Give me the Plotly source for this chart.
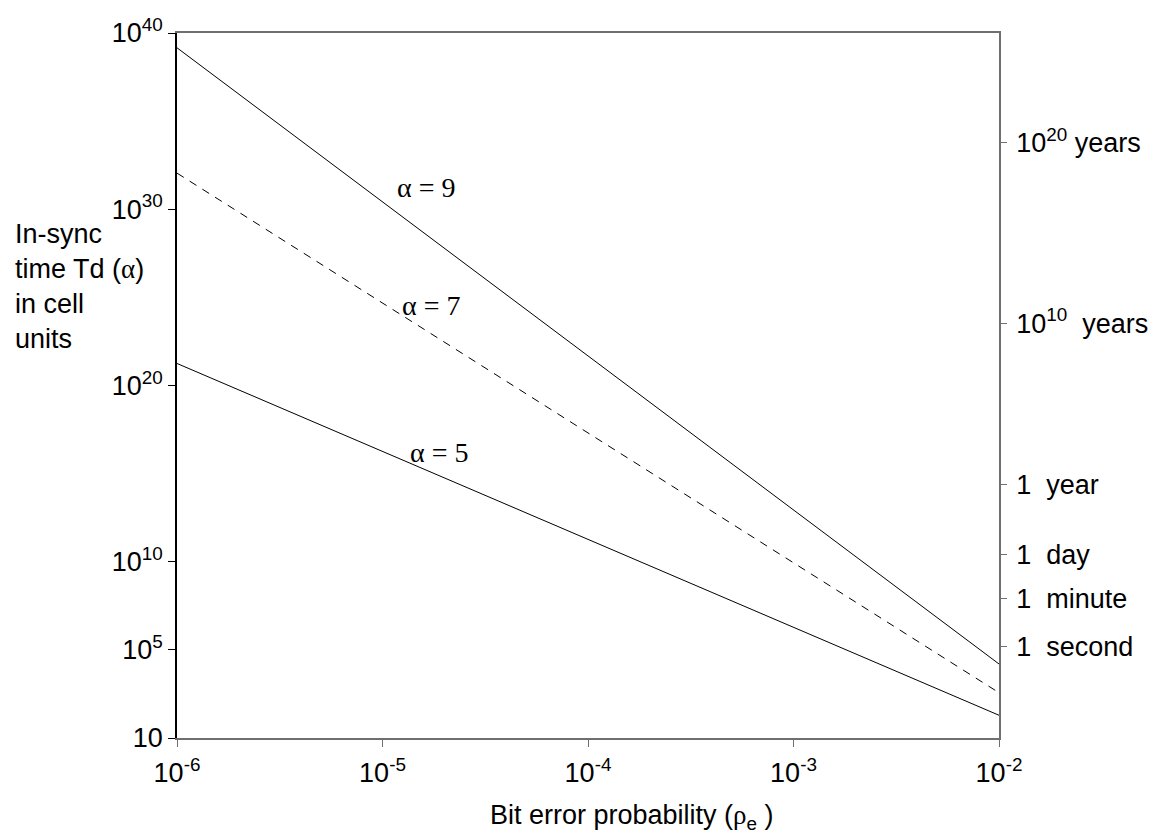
import plotly.graph_objects as go

# ---- data ----
x_ends = [1e-6, 1e-2]                      # bit error probability range
alpha_labels = ["α = 9", "α = 7", "α = 5"]
log_td_alpha9 = [39.16, 4.20]              # log10 of in-sync time at x ends
log_td_alpha7 = [32.05, 2.57]
log_td_alpha5 = [21.25, 1.29]

x_tick_exps = [-6, -5, -4, -3, -2]
y_tick_exps = [0, 5, 10, 20, 30, 40]
y_tick_text = ["10", "10<sup>5</sup>", "10<sup>10</sup>", "10<sup>20</sup>",
               "10<sup>30</sup>", "10<sup>40</sup>"]
right_tick_exps = [5.20, 7.90, 10.40, 14.37, 23.54, 33.77]
right_tick_text = ["1\u00a0\u00a0second", "1\u00a0\u00a0minute", "1\u00a0\u00a0day",
                   "1\u00a0\u00a0year", "10<sup>10</sup>\u00a0\u00a0years",
                   "10<sup>20</sup>\u00a0years"]

# label anchor positions (log10 x, log10 y)
label_pos = [(-4.79, 31.25), (-4.763, 24.56), (-4.724, 16.22)]

SANS = "Arial, 'Liberation Sans', sans-serif"
SERIF = "'Times New Roman', 'Liberation Serif', serif"
FS = 27

fig = go.Figure()
for ys, dash in [(log_td_alpha9, "solid"), (log_td_alpha7, "8px,7px"), (log_td_alpha5, "solid")]:
    fig.add_trace(go.Scatter(
        x=x_ends, y=[10.0 ** v for v in ys], mode="lines",
        line=dict(color="black", width=1, dash=dash),
        showlegend=False, hoverinfo="skip"))

# invisible trace to activate the right axis
fig.add_trace(go.Scatter(x=[x_ends[0]], y=[1.0], yaxis="y2", mode="markers",
                         marker=dict(opacity=0), showlegend=False, hoverinfo="skip"))

for txt, (lx, ly) in zip(alpha_labels, label_pos):
    fig.add_annotation(x=lx, y=ly, xref="x", yref="y", text=txt, showarrow=False,
                       font=dict(family=SERIF, size=28, color="black"))

fig.add_annotation(
    xref="paper", yref="paper", x=-0.1995, y=0.641, xanchor="left", yanchor="middle",
    align="left", showarrow=False,
    text=("In-sync<br>time Td (<span style=\"font-family:Liberation Serif\">α</span>)"
          "<br>in cell<br>units"),
    font=dict(family=SANS, size=FS, color="black"))

fig.add_annotation(
    xref="paper", yref="paper", x=0.554, y=-0.112, xanchor="center", yanchor="middle",
    showarrow=False,
    text="Bit error probability (<span style=\"font-family:Liberation Serif\">ρ</span><sub>e</sub> )",
    font=dict(family=SANS, size=FS, color="black"))

# page body has an 8px margin, so the figure is sized/offset to compensate
fig.update_layout(
    width=1148, height=827,
    margin=dict(l=169, r=157, t=25, b=97, autoexpand=False),
    paper_bgcolor="white", plot_bgcolor="white",
    font=dict(family=SANS, size=FS, color="black"),
    xaxis=dict(type="log", range=[-6, -2], automargin=False,
               tickvals=[10.0 ** e for e in x_tick_exps],
               ticktext=["10<sup>%d</sup>" % e for e in x_tick_exps],
               showgrid=False, zeroline=False,
               showline=True, linecolor="#6f6f6f", linewidth=1.5, mirror=True,
               ticks="outside", ticklen=7, tickcolor="#6f6f6f",
               ticklabelstandoff=3),
    yaxis=dict(type="log", range=[0, 40], automargin=False,
               tickvals=[10.0 ** e for e in y_tick_exps], ticktext=y_tick_text,
               showgrid=False, zeroline=False,
               showline=True, linecolor="black", linewidth=1.5,
               ticks="outside", ticklen=7, tickcolor="black"),
    yaxis2=dict(type="log", range=[0, 40], overlaying="y", side="right", automargin=False,
                tickvals=[10.0 ** e for e in right_tick_exps], ticktext=right_tick_text,
                showgrid=False, zeroline=False,
                showline=True, linecolor="#6f6f6f", linewidth=1.5,
                ticks="outside", ticklen=6, tickcolor="#6f6f6f",
                ticklabelstandoff=4),
)

fig.write_html("out.html")
